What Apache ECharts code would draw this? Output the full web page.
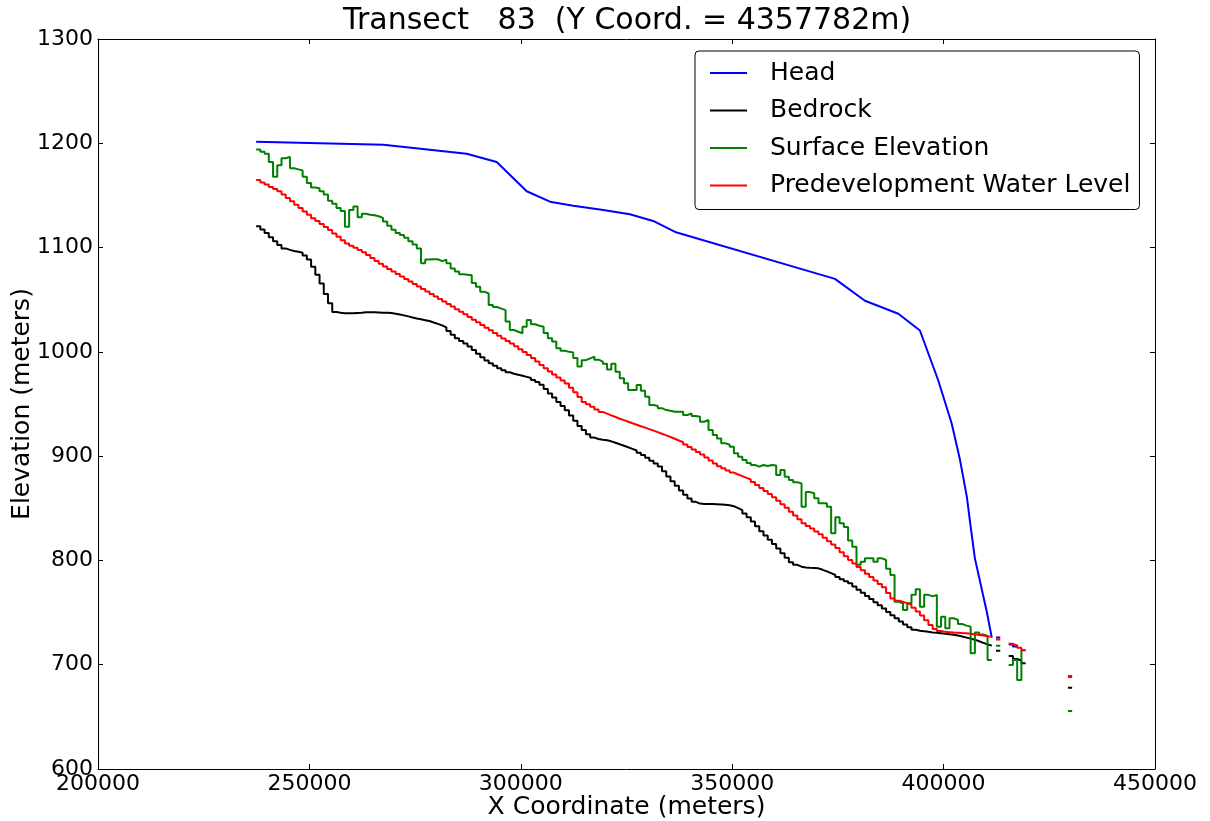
<!DOCTYPE html>
<html lang="en">
<head>
    <meta charset="UTF-8">
    <title>Transect 83</title>
    <script src="https://cdn.jsdelivr.net/npm/echarts@6.0.0/dist/echarts.min.js"></script>
    <style>
        body { margin: 0; background: #fff; }
    </style>
</head>
<body>
<div id="main" style="width: 1210px; height: 821px;"></div>
<script type="text/javascript">
    // model cells along the transect (metres)
    var cellStart = 237400;
    var cellSize = 1000;
    var cellCount = 193;

    // head is a plain polyline
    var headX = [237400, 267500, 287200, 294300, 301400, 306900, 312400, 319500, 325800, 331300, 336500,
        374300, 381400, 389300, 394400, 398700, 401900, 403900, 405500, 406300, 407400, 410200, 411400];
    var headY = [1201.5, 1198.5, 1190, 1182, 1154, 1144, 1140, 1136, 1132, 1125.5, 1115,
        1070, 1049, 1036.5, 1020.5, 973, 931.5, 896, 861, 835.5, 802, 751, 726];

    // cell values, one per cell from cellStart
    var predev = [
        1164.7, 1162.5, 1160.4, 1158.2, 1156.1, 1154.0, 1150.8, 1147.6, 1144.3, 1141.1,
        1137.9, 1134.6, 1131.4, 1128.1, 1125.4, 1122.5, 1119.7, 1116.8, 1113.5, 1110.3,
        1107.1, 1103.8, 1101.8, 1099.8, 1097.7, 1095.6, 1092.8, 1090.0, 1087.2, 1084.4,
        1081.9, 1079.5, 1077.0, 1074.6, 1072.2, 1069.8, 1067.4, 1065.0, 1062.7, 1060.3,
        1057.8, 1055.4, 1053.1, 1050.7, 1048.3, 1045.9, 1043.4, 1040.9, 1038.5, 1036.0,
        1033.5, 1030.9, 1028.3, 1025.8, 1023.2, 1020.6, 1018.0, 1015.5, 1012.9, 1010.4,
        1007.9, 1005.3, 1002.6, 999.8, 996.9, 994.0, 990.8, 987.5, 984.3, 981.1,
        978.2, 975.4, 972.5, 969.7, 965.7, 961.2, 956.7, 952.0, 949.7, 947.3,
        944.8, 942.4, 940.8, 939.1, 937.5, 935.9, 934.5, 933.0, 931.5, 930.1,
        928.7, 927.3, 925.9, 924.5, 923.0, 921.5, 919.9, 918.4, 916.7, 915.0,
        913.3, 911.2, 908.8, 906.4, 903.9, 901.5, 898.7, 895.8, 893.0, 890.3,
        888.3, 886.3, 884.2, 882.4, 880.8, 879.2, 877.6, 875.2, 872.3, 869.5,
        866.6, 863.7, 860.5, 857.2, 853.9, 850.4, 846.7, 843.1, 839.5, 835.7,
        833.1, 830.5, 827.8, 825.0, 821.8, 818.5, 815.3, 811.8, 807.9, 804.1,
        800.3, 797.0, 793.8, 790.5, 787.3, 784.0, 780.8, 777.5, 774.2, 768.8,
        763.4, 761.4, 760.3, 759.0, 757.8, 754.6, 751.1, 747.1, 742.6, 738.0,
        734.3, 732.3, 731.5, 731.2, 730.9, 730.7, 730.4, 730.2, 729.8, 729.2,
        728.6, 728.0, 727.3, 726.7];

    var bedrock = [
        1120.5, 1117.3, 1114.0, 1110.0, 1106.0, 1102.5, 1099.2, 1097.8, 1096.8, 1096.0,
        1095.0, 1092.5, 1088.5, 1081.5, 1074.0, 1065.5, 1055.5, 1046.5, 1038.3, 1037.5,
        1037.0, 1037.0, 1037.0, 1037.3, 1037.5, 1038.0, 1038.0, 1038.0, 1037.8, 1037.6,
        1037.6, 1037.2, 1036.6, 1035.8, 1035.0, 1034.0, 1033.0, 1032.0, 1031.2, 1030.4,
        1029.6, 1028.2, 1026.8, 1025.4, 1023.5, 1020.0, 1016.5, 1013.0, 1010.5, 1008.0,
        1005.2, 1001.8, 998.2, 994.8, 991.6, 989.0, 986.6, 984.4, 982.4, 980.4,
        979.0, 978.0, 977.0, 976.0, 975.0, 973.0, 971.0, 968.5, 964.5, 960.0,
        956.2, 952.0, 948.0, 944.0, 939.0, 934.0, 929.0, 925.0, 921.0, 917.8,
        916.5, 915.8, 915.2, 914.2, 912.8, 911.4, 910.0, 908.5, 907.0, 905.4,
        903.3, 901.0, 898.5, 895.5, 893.0, 890.0, 885.5, 880.5, 876.0, 871.5,
        867.0, 863.0, 859.5, 856.2, 854.5, 854.0, 854.0, 854.0, 853.8, 853.6,
        853.3, 853.0, 852.0, 850.2, 848.3, 845.0, 841.5, 837.3, 832.8, 828.0,
        823.8, 819.8, 815.8, 811.5, 807.0, 802.5, 798.3, 795.8, 794.0, 793.3,
        793.0, 792.8, 792.4, 791.0, 789.5, 787.8, 786.0, 784.0, 782.0, 780.0,
        778.0, 775.0, 772.0, 769.0, 766.0, 763.0, 760.0, 757.0, 753.8, 750.5,
        747.5, 744.5, 741.5, 738.5, 736.0, 733.5, 732.5, 732.0, 731.5, 731.0,
        730.6, 730.2, 729.7, 729.2, 728.7, 728.0, 727.0, 726.0, 725.0, 724.0,
        722.5, 721.0, 719.5, 718.3];

    var surface = [
        1194, 1192, 1190, 1182, 1168, 1179, 1185.6, 1187, 1176, 1175,
        1174, 1168, 1162, 1157.5, 1156.8, 1154, 1151, 1145, 1142, 1138,
        1135, 1120, 1136, 1139.5, 1129, 1132.5, 1131.5, 1131, 1130, 1128.5,
        1125, 1121, 1117, 1114, 1112, 1109.5, 1106, 1103, 1099, 1085,
        1088.5, 1088.8, 1088.8, 1087, 1088.5, 1085, 1080, 1077, 1074.5, 1074,
        1073.5, 1066, 1062.5, 1057.7, 1056, 1045, 1043, 1041.5, 1040, 1029,
        1021, 1019.3, 1017.8, 1024, 1030.5, 1026.5, 1025, 1024, 1018, 1013,
        1010, 1003.5, 1001, 1000, 999.5, 994, 986, 992, 993.8, 995.4,
        992.5, 990.6, 988.5, 983, 988.5, 981, 974.6, 969.8, 963.4, 963.4,
        968.2, 962.8, 957, 949, 948, 946, 944.2, 943.5, 942.6, 942.6,
        942.6, 939.5, 941, 938.5, 937.8, 933, 934.7, 925, 920.3, 917,
        912.3, 911, 909, 902.7, 899.5, 896.3, 893.5, 891.5, 889.9, 891.5,
        890.5, 891.5, 891, 882, 886.7, 880.3, 877.1, 875, 873.9, 851.5,
        865.5, 864.4, 859.6, 854.8, 854.8, 851.5, 826, 841.5, 835.6, 832,
        819, 813.2, 795.8, 798.8, 802, 802, 798.8, 802, 800.4, 792,
        786, 760.4, 759, 752.5, 759, 767, 772.3, 755.6, 767, 765.5,
        767, 736.5, 746, 735, 744.5, 743, 739, 737.5, 736.5, 711,
        731, 729, 727.5, 704.5];

    // scattered cells past the end of the main run
    var tailIdx = [175, 178, 179, 180, 181, 192];
    var headTail = [726, 719.5, 717.5, null, null, 689];
    var predevTail = [724.2, 720, 718.5, 716.2, 713.8, 688.2];
    var bedrockTail = [713.4, 708.4, 705.5, 703.9, 701.4, 677.9];
    var surfaceTail = [718.2, 699.8, 704.5, 685.4, 713.8, 655.6];

    // steps-mid style: each cell is a flat run, neighbours joined by a vertical
    function stepData(values, tail) {
        var cells = [];
        for (var i = 0; i < cellCount; i++) cells.push(null);
        values.forEach(function (v, i) { cells[i] = v; });
        tailIdx.forEach(function (idx, k) { cells[idx] = tail[k]; });
        var out = [];
        cells.forEach(function (v, i) {
            var x0 = cellStart + i * cellSize;
            if (v == null) {
                out.push([x0 + cellSize / 2, null]);
            } else {
                out.push([x0, v], [x0 + cellSize, v]);
            }
        });
        return out;
    }

    var headData = headX.map(function (x, i) { return [x, headY[i]]; });
    headData = headData.concat(stepData([], headTail));

    var font = 'DejaVu Sans';
    var plain = function (v) { return String(v); };

    function lineSeries(name, color, data) {
        return {
            name: name,
            type: 'line',
            data: data,
            color: color,
            showSymbol: false,
            symbol: 'none',
            connectNulls: false,
            lineStyle: {color: color, width: 2},
            emphasis: {disabled: true},
            xAxisIndex: 0,
            yAxisIndex: 0
        };
    }

    var myChart = echarts.init(document.getElementById('main'));
    var option = {
        animation: false,
        backgroundColor: '#fff',
        textStyle: {fontFamily: font},
        title: {
            text: 'Transect   83  (Y Coord. = 4357782m)',
            left: 343,
            top: 0,
            padding: [6, 0, 5, 0],
            textStyle: {fontFamily: font, fontSize: 30, fontWeight: 'normal', color: '#000'}
        },
        legend: {
            orient: 'vertical',
            left: 695,
            top: 51,
            data: ['Head', 'Bedrock', 'Surface Elevation', 'Predevelopment Water Level'],
            icon: 'rect',
            itemWidth: 37,
            itemHeight: 2,
            itemGap: 11.5,
            padding: [9, 9, 11, 15],
            backgroundColor: '#fff',
            borderColor: '#000',
            borderWidth: 1,
            borderRadius: 4,
            textStyle: {fontFamily: font, fontSize: 25, color: '#000', lineHeight: 26, padding: [0, 0, 0, 18]}
        },
        grid: {
            left: 98,
            right: 55,
            top: 39,
            bottom: 52,
            outerBoundsMode: 'none'
        },
        xAxis: [{
            type: 'value',
            position: 'bottom',
            min: 200000,
            max: 450000,
            interval: 50000,
            name: 'X Coordinate (meters)',
            nameLocation: 'middle',
            nameGap: 26,
            nameMoveOverlap: false,
            nameTextStyle: {fontFamily: font, fontSize: 25, color: '#000'},
            axisLine: {show: true, onZero: false, lineStyle: {color: '#000', width: 1}},
            axisTick: {show: true, inside: true, length: 5, lineStyle: {color: '#000'}},
            axisLabel: {fontFamily: font, fontSize: 22, color: '#000', margin: 4, formatter: plain},
            splitLine: {show: false}
        }, {
            type: 'value',
            position: 'top',
            min: 200000,
            max: 450000,
            interval: 50000,
            axisLine: {show: true, onZero: false, lineStyle: {color: '#000', width: 1}},
            axisTick: {show: true, inside: true, length: 5, lineStyle: {color: '#000'}},
            axisLabel: {show: false},
            splitLine: {show: false}
        }],
        yAxis: [{
            type: 'value',
            position: 'left',
            min: 600,
            max: 1300,
            interval: 100,
            name: 'Elevation (meters)',
            nameLocation: 'middle',
            nameGap: 63,
            nameMoveOverlap: false,
            nameTextStyle: {fontFamily: font, fontSize: 25, color: '#000'},
            axisLine: {show: true, onZero: false, lineStyle: {color: '#000', width: 1}},
            axisTick: {show: true, inside: true, length: 5, lineStyle: {color: '#000'}},
            axisLabel: {fontFamily: font, fontSize: 22, color: '#000', margin: 5, formatter: plain},
            splitLine: {show: false}
        }, {
            type: 'value',
            position: 'right',
            min: 600,
            max: 1300,
            interval: 100,
            axisLine: {show: true, onZero: false, lineStyle: {color: '#000', width: 1}},
            axisTick: {show: true, inside: true, length: 5, lineStyle: {color: '#000'}},
            axisLabel: {show: false},
            splitLine: {show: false}
        }],
        series: [
            lineSeries('Head', '#0000ff', headData),
            lineSeries('Bedrock', '#000000', stepData(bedrock, bedrockTail)),
            lineSeries('Surface Elevation', '#008000', stepData(surface, surfaceTail)),
            lineSeries('Predevelopment Water Level', '#ff0000', stepData(predev, predevTail))
        ]
    };
    myChart.setOption(option);
</script>
</body>
</html>
